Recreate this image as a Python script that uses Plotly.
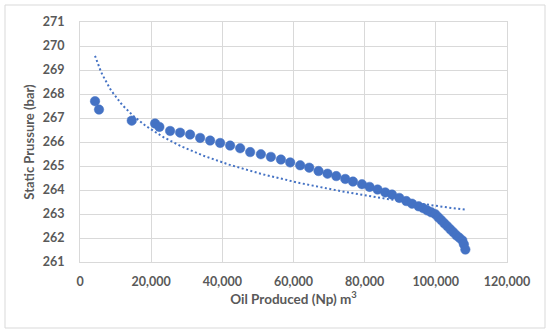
import numpy as np
import plotly.graph_objects as go

# Oil produced (Np, m3) and static pressure (bar)
oil_produced = [4220, 5340, 14540, 21100, 22310, 25320, 28130, 30940, 33760, 36570,
                39380, 42190, 45010, 47820, 50830, 53640, 56460, 59070, 61880, 64420,
                67030, 69560, 72010, 74540, 76710, 79240, 81380, 83630, 85790, 87680,
                89730, 91700, 93300, 95160, 96480, 97610, 98730, 99860, 100700, 101550,
                102390, 103230, 104080, 104920, 105770, 106610, 107450, 107880, 108300]
static_pressure = [267.70, 267.35, 266.89, 266.77, 266.63, 266.46, 266.39, 266.31, 266.17, 266.06,
                   265.96, 265.85, 265.74, 265.58, 265.49, 265.38, 265.27, 265.15, 265.03, 264.93,
                   264.79, 264.68, 264.58, 264.46, 264.35, 264.24, 264.13, 264.02, 263.90, 263.81,
                   263.67, 263.54, 263.43, 263.32, 263.24, 263.15, 263.07, 262.99, 262.86, 262.74,
                   262.61, 262.49, 262.36, 262.24, 262.11, 262.01, 261.90, 261.74, 261.52]

x_ticks = [0, 20000, 40000, 60000, 80000, 100000, 120000]
y_ticks = [261, 262, 263, 264, 265, 266, 267, 268, 269, 270, 271]

x_title = "Oil Produced (Np) m<sup>3</sup>"
y_title = "Static Prussure (bar)"

# Logarithmic trendline (least squares on ln x), as in the spreadsheet
xa = np.array(oil_produced, dtype=float)
ya = np.array(static_pressure, dtype=float)
coef = np.polyfit(np.log(xa), ya, 1)
trend_x = np.linspace(xa.min(), xa.max(), 200)
trend_y = coef[0] * np.log(trend_x) + coef[1]

blue = "#4472C4"
grid = "#D9D9D9"
label_col = "#595959"
font_family = "Lato, 'Open Sans', sans-serif"

fig = go.Figure()
fig.add_trace(go.Scatter(
    x=trend_x, y=trend_y, mode="lines",
    line=dict(color=blue, width=2, dash="2px,2.5px"),
    hoverinfo="skip", showlegend=False))
fig.add_trace(go.Scatter(
    x=oil_produced, y=static_pressure, mode="markers",
    marker=dict(color=blue, size=9.5, line=dict(color=blue, width=0.5)),
    showlegend=False))

W, H = 550, 334
L, R, T, B = 80, 43, 22, 72
pw, ph = W - L - R, H - T - B

fig.update_layout(
    width=W, height=H,
    margin=dict(l=L, r=R, t=T, b=B, autoexpand=False),
    paper_bgcolor="white", plot_bgcolor="white",
    font=dict(family=font_family, color=label_col),
    shapes=[dict(type="rect", xref="paper", yref="paper",
                 x0=(5 - L) / pw, x1=(545 - L) / pw,
                 y0=(H - B - 328) / ph, y1=(H - B - 5) / ph,
                 line=dict(color=grid, width=1), layer="below")],
)
fig.update_xaxes(
    range=[0, 120000], tickvals=x_ticks, tickformat=",",
    showgrid=True, gridcolor=grid, gridwidth=1,
    showline=True, linecolor=grid, mirror=True, zeroline=False,
    ticks="", ticklabelstandoff=8, automargin=False,
    tickfont=dict(size=12.5, color=label_col, family=font_family, weight="bold"),
    title=dict(text=x_title, standoff=6,
               font=dict(size=13.5, color=label_col, family=font_family, weight="bold")),
)
fig.update_yaxes(
    range=[261, 271], tickvals=y_ticks,
    showgrid=True, gridcolor=grid, gridwidth=1,
    showline=True, linecolor=grid, mirror=True, zeroline=False,
    ticks="", ticklabelstandoff=12, automargin=False,
    tickfont=dict(size=12.5, color=label_col, family=font_family, weight="bold"),
    title=dict(text=y_title, standoff=5,
               font=dict(size=13, color=label_col, family=font_family, weight="bold")),
)

fig.write_html("out.html", config={"displayModeBar": False},
               post_script="document.body.style.margin='0';")
